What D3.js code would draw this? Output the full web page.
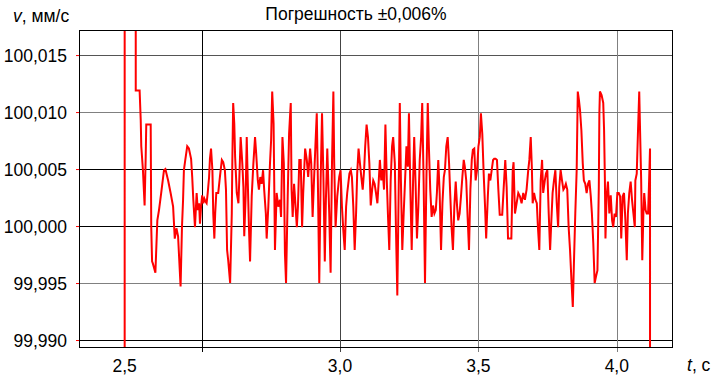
<!DOCTYPE html>
<html>
<head>
<meta charset="utf-8">
<script src="https://cdnjs.cloudflare.com/ajax/libs/d3/7.8.5/d3.min.js"></script>
<style>
  body { margin: 0; background: #fff; }
  svg text { font-family: "Liberation Sans", Arial, sans-serif; font-size: 17.5px; fill: #000; }
</style>
</head>
<body>
<div id="chart"></div>
<script>
// Data
const title = 'Погрешность ±0,006%';
const yTicks = [99.990, 99.995, 100.000, 100.005, 100.010, 100.015];
const xTicks = [2.5, 3.0, 3.5, 4.0];
const xTickLabels = ['', '3,0', '3,5', '4,0'];
const startLabel = '2,5';

// time, s
const time = [
  2.222, 2.222, 2.262, 2.262, 2.276, 2.280, 2.282, 2.288, 2.294, 2.298,
  2.300, 2.316, 2.318, 2.321, 2.324, 2.333, 2.340, 2.346, 2.354, 2.364,
  2.369, 2.379, 2.388, 2.397, 2.403, 2.409, 2.415, 2.418, 2.424, 2.429,
  2.433, 2.436, 2.441, 2.448, 2.454, 2.462, 2.466, 2.470, 2.476, 2.482,
  2.486, 2.491, 2.494, 2.498, 2.502, 2.506, 2.510, 2.515, 2.518, 2.522,
  2.527, 2.530, 2.534, 2.539, 2.542, 2.546, 2.549, 2.553, 2.560, 2.566,
  2.573, 2.578, 2.584, 2.588, 2.592, 2.596, 2.603, 2.609, 2.611, 2.614,
  2.618, 2.621, 2.627, 2.633, 2.636, 2.641, 2.647, 2.651, 2.654, 2.659,
  2.663, 2.666, 2.671, 2.675, 2.681, 2.687, 2.693, 2.697, 2.703, 2.707,
  2.712, 2.717, 2.722, 2.726, 2.732, 2.735, 2.741, 2.747, 2.751, 2.755,
  2.760, 2.765, 2.771, 2.777, 2.783, 2.787, 2.792, 2.797, 2.801, 2.805,
  2.811, 2.816, 2.822, 2.825, 2.829, 2.834, 2.837, 2.844, 2.848, 2.853,
  2.858, 2.863, 2.867, 2.874, 2.880, 2.885, 2.892, 2.896, 2.901, 2.906,
  2.911, 2.916, 2.920, 2.925, 2.930, 2.935, 2.940, 2.945, 2.949, 2.954,
  2.961, 2.966, 2.971, 2.976, 2.979, 2.984, 2.990, 2.997, 3.002, 3.007,
  3.012, 3.017, 3.022, 3.026, 3.034, 3.039, 3.043, 3.048, 3.053, 3.058,
  3.062, 3.067, 3.072, 3.077, 3.082, 3.087, 3.091, 3.096, 3.101, 3.106,
  3.111, 3.116, 3.120, 3.125, 3.130, 3.135, 3.140, 3.144, 3.149, 3.154,
  3.159, 3.164, 3.169, 3.173, 3.178, 3.183, 3.188, 3.192, 3.198, 3.202,
  3.207, 3.216, 3.220, 3.225, 3.230, 3.235, 3.240, 3.245, 3.249, 3.254,
  3.259, 3.264, 3.268, 3.273, 3.278, 3.283, 3.288, 3.293, 3.297, 3.302,
  3.307, 3.312, 3.317, 3.321, 3.326, 3.331, 3.336, 3.341, 3.346, 3.350,
  3.355, 3.360, 3.365, 3.370, 3.375, 3.379, 3.384, 3.389, 3.394, 3.398,
  3.403, 3.408, 3.413, 3.418, 3.423, 3.427, 3.432, 3.437, 3.442, 3.447,
  3.451, 3.456, 3.461, 3.466, 3.471, 3.476, 3.480, 3.485, 3.490, 3.495,
  3.500, 3.505, 3.509, 3.514, 3.519, 3.524, 3.528, 3.534, 3.538, 3.543,
  3.548, 3.553, 3.557, 3.562, 3.567, 3.572, 3.577, 3.586, 3.591, 3.597,
  3.602, 3.607, 3.619, 3.624, 3.627, 3.632, 3.638, 3.644, 3.650, 3.656,
  3.662, 3.668, 3.674, 3.680, 3.684, 3.689, 3.693, 3.696, 3.701, 3.706,
  3.711, 3.715, 3.720, 3.725, 3.730, 3.734, 3.740, 3.744, 3.749, 3.754,
  3.759, 3.763, 3.768, 3.773, 3.778, 3.783, 3.788, 3.792, 3.797, 3.802,
  3.807, 3.812, 3.816, 3.821, 3.826, 3.831, 3.836, 3.841, 3.845, 3.850,
  3.855, 3.859, 3.863, 3.867, 3.872, 3.877, 3.881, 3.886, 3.891, 3.896,
  3.901, 3.906, 3.910, 3.915, 3.920, 3.925, 3.930, 3.935, 3.937, 3.939,
  3.945, 3.951, 3.954, 3.957, 3.959, 3.963, 3.968, 3.973, 3.978, 3.983,
  3.987, 3.992, 3.997, 4.002, 4.007, 4.012, 4.016, 4.021, 4.026, 4.031,
  4.036, 4.040, 4.045, 4.050, 4.055, 4.060, 4.065, 4.067, 4.072, 4.077,
  4.081, 4.084, 4.088, 4.092, 4.096, 4.099, 4.104, 4.108, 4.113, 4.116,
  4.120, 4.120
];

// speed, mm/s
const speed = [
  99.9850, 100.0200, 100.0200, 100.0119, 100.0119, 100.0093, 100.0070, 100.0049, 100.0018, 100.0061,
  100.0089, 100.0089, 99.9999, 99.9969, 99.9967, 99.9959, 100.0005, 100.0014, 100.0029, 100.0049,
  100.0050, 100.0040, 100.0029, 100.0017, 99.9989, 99.9998, 99.9991, 99.9976, 99.9947, 99.9999,
  100.0023, 100.0049, 100.0058, 100.0070, 100.0068, 100.0059, 100.0043, 100.0023, 99.9999, 100.0029,
  100.0014, 100.0020, 100.0002, 100.0017, 100.0027, 100.0020, 100.0024, 100.0021, 100.0020, 100.0029,
  100.0043, 100.0059, 100.0068, 100.0049, 100.0011, 99.9989, 100.0011, 100.0029, 100.0029, 100.0043,
  100.0058, 100.0056, 100.0049, 100.0032, 99.9979, 99.9970, 99.9950, 100.0011, 100.0058, 100.0108,
  100.0090, 100.0061, 100.0029, 100.0020, 100.0040, 100.0078, 100.0055, 100.0034, 99.9991, 100.0026,
  100.0078, 100.0046, 99.9999, 99.9969, 100.0026, 100.0055, 100.0078, 100.0064, 100.0040, 100.0032,
  100.0043, 100.0037, 100.0049, 100.0032, 100.0011, 99.9989, 100.0017, 100.0055, 100.0075, 100.0118,
  100.0090, 99.9979, 100.0029, 100.0017, 100.0023, 100.0008, 100.0078, 100.0055, 99.9976, 99.9950,
  100.0026, 100.0081, 100.0108, 100.0032, 100.0008, 100.0037, 100.0026, 99.9999, 100.0017, 100.0058,
  100.0058, 99.9999, 100.0029, 100.0068, 100.0058, 100.0043, 100.0068, 100.0055, 100.0008, 100.0040,
  100.0070, 100.0099, 100.0040, 99.9950, 100.0040, 100.0099, 100.0043, 99.9969, 100.0023, 100.0068,
  100.0011, 99.9959, 100.0055, 100.0118, 100.0055, 99.9999, 100.0026, 100.0043, 100.0049, 100.0017,
  99.9996, 99.9979, 100.0017, 100.0029, 100.0046, 100.0049, 100.0043, 100.0017, 99.9979, 100.0011,
  100.0046, 100.0068, 100.0055, 100.0043, 100.0032, 100.0049, 100.0070, 100.0089, 100.0078, 100.0055,
  100.0018, 100.0032, 100.0040, 100.0037, 100.0029, 100.0020, 100.0040, 100.0058, 100.0040, 100.0049,
  100.0032, 100.0089, 100.0040, 100.0011, 99.9979, 100.0040, 100.0070, 100.0078, 100.0055, 99.9999,
  99.9939, 100.0108, 100.0040, 99.9979, 100.0011, 100.0040, 100.0070, 100.0052, 100.0099, 100.0034,
  99.9979, 100.0040, 100.0078, 100.0037, 99.9989, 100.0017, 100.0058, 100.0078, 100.0108, 100.0040,
  99.9950, 100.0040, 100.0108, 100.0070, 100.0032, 100.0008, 100.0018, 100.0011, 100.0014, 100.0029,
  100.0058, 100.0029, 99.9979, 100.0020, 100.0043, 100.0049, 100.0070, 100.0078, 100.0055, 100.0029,
  99.9999, 99.9979, 100.0017, 100.0039, 100.0017, 100.0005, 100.0011, 100.0026, 100.0043, 100.0058,
  100.0052, 100.0040, 100.0008, 99.9979, 100.0032, 100.0058, 100.0067, 100.0068, 100.0040, 100.0049,
  100.0070, 100.0078, 100.0099, 100.0081, 100.0046, 100.0017, 99.9989, 100.0026, 100.0046, 100.0040,
  100.0049, 100.0058, 100.0059, 100.0059, 100.0058, 100.0032, 100.0010, 100.0010, 100.0032, 100.0058,
  100.0034, 99.9989, 99.9989, 100.0049, 100.0056, 100.0011, 100.0020, 100.0029, 100.0026, 100.0020,
  100.0029, 100.0023, 100.0032, 100.0049, 100.0058, 100.0078, 100.0052, 100.0020, 100.0029, 100.0023,
  100.0020, 99.9999, 99.9979, 100.0040, 100.0058, 100.0029, 100.0040, 100.0046, 100.0049, 100.0011,
  99.9979, 100.0002, 100.0029, 100.0040, 100.0049, 100.0020, 99.9999, 100.0034, 100.0049, 100.0040,
  100.0032, 100.0034, 100.0037, 100.0032, 99.9999, 99.9979, 99.9953, 99.9929, 99.9967, 100.0011,
  100.0049, 100.0118, 100.0111, 100.0102, 100.0084, 100.0055, 100.0040, 100.0037, 100.0029, 100.0037,
  100.0040, 100.0026, 100.0011, 99.9985, 99.9950, 99.9956, 99.9961, 100.0034, 100.0099, 100.0118,
  100.0115, 100.0108, 100.0084, 100.0040, 99.9989, 100.0026, 100.0039, 100.0011, 100.0027, 100.0005,
  99.9999, 100.0011, 100.0008, 100.0029, 100.0029, 100.0026, 99.9989, 100.0026, 100.0029, 100.0005,
  99.9970, 100.0011, 100.0029, 100.0039, 100.0023, 100.0011, 99.9999, 100.0040, 100.0046, 100.0087,
  100.0118, 100.0084, 100.0040, 99.9970, 100.0011, 100.0029, 100.0014, 100.0011, 100.0011, 100.0034,
  100.0068, 99.9850
];

// Layout
const width = 712;
const height = 380;
const margin = { top: 30, right: 39, bottom: 32, left: 79 };

const yGridColor = ['#000', '#808080', '#000', '#000', '#808080', '#555'];
const xGridColor = ['#000', '#444', '#808080', '#808080'];

const svg = d3.select('#chart').append('svg')
    .attr('width', width)
    .attr('height', height);

const x = d3.scaleLinear()
    .domain([2.057, 4.203])
    .range([margin.left, width - margin.right]);

const y = d3.scaleLinear()
    .domain([99.9893, 100.0172])
    .range([height - margin.bottom, margin.top]);

const fmt = d => d3.format('.3f')(d).replace('.', ',');

svg.append('defs').append('clipPath')
    .attr('id', 'plot')
    .append('rect')
    .attr('x', margin.left)
    .attr('y', margin.top)
    .attr('width', width - margin.left - margin.right)
    .attr('height', height - margin.top - margin.bottom);

// horizontal grid
svg.append('g')
    .selectAll('line')
    .data(yTicks)
    .join('line')
    .attr('x1', margin.left)
    .attr('x2', width - margin.right)
    .attr('y1', d => Math.round(y(d)) + 0.5)
    .attr('y2', d => Math.round(y(d)) + 0.5)
    .attr('stroke', (d, i) => yGridColor[i]);

// vertical grid, with ticks below the frame
svg.append('g')
    .selectAll('line')
    .data(xTicks)
    .join('line')
    .attr('x1', d => Math.round(x(d)) + 0.5)
    .attr('x2', d => Math.round(x(d)) + 0.5)
    .attr('y1', margin.top)
    .attr('y2', height - margin.bottom + 4)
    .attr('stroke', (d, i) => xGridColor[i]);

// y axis: red ticks and labels
const yAxis = d3.axisLeft(y)
    .tickValues(yTicks)
    .tickSize(3)
    .tickPadding(9)
    .tickFormat(fmt);

const gy = svg.append('g')
    .attr('transform', `translate(${margin.left},0)`)
    .call(yAxis);
gy.select('.domain').remove();
gy.selectAll('.tick line').attr('stroke', '#f00');
gy.selectAll('.tick text')
    .attr('dy', '0.36em')
    .style('font-size', '17.5px');
gy.attr('font-family', null).attr('font-size', null);

// x labels
svg.append('g')
    .selectAll('text')
    .data(xTicks)
    .join('text')
    .attr('x', d => x(d))
    .attr('y', 371.5)
    .attr('text-anchor', 'middle')
    .text((d, i) => xTickLabels[i]);

svg.append('text')
    .attr('x', x(time[0]))
    .attr('y', 371.5)
    .attr('text-anchor', 'middle')
    .text(startLabel);

// data line
const line = d3.line()
    .x(i => x(time[i]))
    .y(i => y(speed[i]));

svg.append('path')
    .datum(d3.range(time.length))
    .attr('clip-path', 'url(#plot)')
    .attr('fill', 'none')
    .attr('stroke', '#f00')
    .attr('stroke-width', 2)
    .attr('d', line);

// frame
svg.append('rect')
    .attr('x', margin.left + 0.5)
    .attr('y', margin.top + 0.5)
    .attr('width', width - margin.left - margin.right - 1)
    .attr('height', height - margin.top - margin.bottom - 1)
    .attr('fill', 'none')
    .attr('stroke', '#000');

// titles
svg.append('text')
    .attr('x', width / 2)
    .attr('y', 19.5)
    .attr('text-anchor', 'middle')
    .text(title);

const yTitle = svg.append('text')
    .attr('x', 13)
    .attr('y', 21.5);
yTitle.append('tspan').style('font-style', 'italic').text('v');
yTitle.append('tspan').text(', мм/с');

const xTitle = svg.append('text')
    .attr('x', 687)
    .attr('y', 371);
xTitle.append('tspan').style('font-style', 'italic').text('t');
xTitle.append('tspan').text(', с');
</script>
</body>
</html>
